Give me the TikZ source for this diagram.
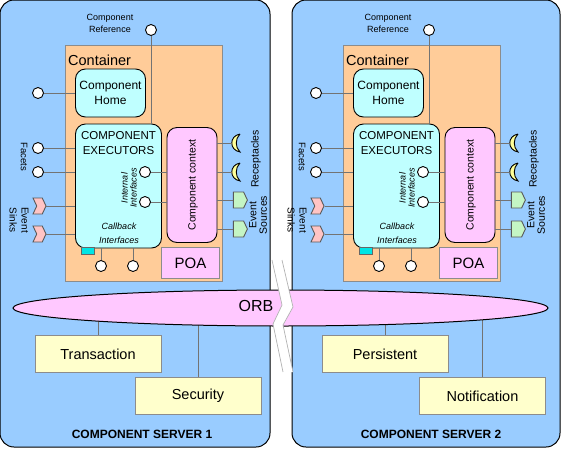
\documentclass[tikz,border=0pt]{standalone}
\usepackage{fontspec}
\setmainfont{Liberation Sans}
\usetikzlibrary{shapes.geometric,shapes.symbols}
\newcommand{\fsz}[1]{\fontsize{#1}{#1}\selectfont}

\begin{document}
\begin{tikzpicture}[
  x=1pt,y=-1pt,
  server/.style={draw,line width=1pt,rounded corners=14pt,fill=srvblue,minimum height=447pt,inner sep=0pt},
  container/.style={draw=black!45,line width=.8pt,fill=contorange,minimum width=157pt,minimum height=236pt,inner sep=0pt},
  compbox/.style={draw,line width=.9pt,rounded corners=10pt,fill=compcyan,align=center,inner sep=0pt,font=\fsz{12}},
  ctxbox/.style={draw,line width=.9pt,rounded corners=10pt,fill=ctxpink,inner sep=0pt},
  poabox/.style={draw=black!45,line width=.8pt,fill=ctxpink,minimum width=58pt,minimum height=31pt,inner sep=0pt,font=\fsz{15}},
  port/.style={draw,line width=.9pt,circle,fill=white,minimum width=11pt,inner sep=0pt},
  sinkport/.style={draw=black!65,line width=.9pt,signal,signal to=east,signal from=west,signal pointer angle=130,fill=sinkpink,minimum width=13pt,minimum height=16pt,inner sep=0pt},
  srcport/.style={draw=black!65,line width=.9pt,signal,signal to=east,signal pointer angle=130,fill=srcgreen,minimum width=14pt,minimum height=16pt,inner sep=0pt},
  service/.style={draw=black!45,line width=.7pt,fill=svcyellow,minimum width=126pt,minimum height=37pt,inner sep=0pt,font=\fsz{14.5}},
  wire/.style={draw=black!55,line width=.7pt},
  tiny/.style={inner sep=0pt,align=center,font=\fsz{9}},
  smalltext/.style={inner sep=0pt,align=center,font=\fsz{10.5}},
  title/.style={inner sep=0pt,font=\fsz{12}\bfseries},
  crescent/.pic={
    \draw[line width=.9pt,fill=recyellow] (4,-9) .. controls (-7,-7) and (-7,7) .. (4,9)
      .. controls (-1,4) and (-1,-4) .. (4,-9);
    \coordinate (-back) at (-4,0);
  }
]
  \definecolor{srvblue}{HTML}{99CCFF}
  \definecolor{contorange}{HTML}{FFCC99}
  \definecolor{compcyan}{HTML}{BFFFFF}
  \definecolor{ctxpink}{HTML}{FFC8FF}
  \definecolor{sinkpink}{HTML}{FFC4C4}
  \definecolor{srcgreen}{HTML}{C4F5C4}
  \definecolor{recyellow}{HTML}{FFFF99}
  \definecolor{svcyellow}{HTML}{FFFFCC}
  \definecolor{tabcyan}{HTML}{00E5E5}
  \useasboundingbox (0,0) rectangle (562,448);

  \node[server,minimum width=270pt] (srv1) at (135,223.5) {};
  \node[server,minimum width=268pt] (srv2) at (426,223.5) {};

  \foreach \s/\dx in {a/0,b/278} {
    \begin{scope}[xshift=\dx pt,name prefix=\s-]
      \node[container] (cont) at (143.5,163) {};
      \node[inner sep=0pt,anchor=west,font=\fsz{14.5}] (contlabel) at (68,60) {Container};
      \node[compbox,minimum width=70pt,minimum height=48pt] (home) at (110.5,93) {Component\\[3pt]Home};
      \node[compbox,minimum width=86pt,minimum height=124pt] (exec) at (118.5,186) {};
      \node[inner sep=0pt,align=center,font=\fsz{11.5}] (execlabel) at (118.5,143.5) {COMPONENT\\[3.5pt]EXECUTORS};
      \node[ctxbox,minimum width=50pt,minimum height=115pt] (ctx) at (192,185) {};
      \node[rotate=90,inner sep=0pt,font=\fsz{10.5}] (ctxlabel) at (193,185) {Component context};
      \node[poabox] (poa) at (190.5,263) {POA};
      \node[draw=black!60,line width=.6pt,fill=tabcyan,minimum width=13pt,minimum height=7pt,inner sep=0pt] (tab) at (87.5,250.5) {};

      \node[tiny,rotate=90,font=\fsz{9}\itshape] (intlabel) at (129,188) {Internal\\Interfaces};
      \node[tiny,font=\fsz{9}\itshape] (cblabel) at (119,233) {Callback\\[5pt]Interfaces};
      \node[tiny] (reflabel) at (110,23) {Component\\[3pt]Reference};
      \node[tiny,rotate=-90,font=\fsz{9.5}] (facelabel) at (24,157) {Facets};
      \node[tiny,rotate=-90,font=\fsz{10}] (sinklabel) at (19,220) {Event\\[2pt]Sinks};
      \node[smalltext,rotate=90] (reclabel) at (256,159) {Receptacles};
      \node[smalltext,rotate=90] (srclabel) at (258,215) {Event\\Sources};

      \node[port] (ref) at (151,30) {};
      \node[port] (hp) at (38,93) {};
      \node[port] (face1) at (38,148) {};
      \node[port] (face2) at (38,172) {};
      \node[port] (int1) at (145,172) {};
      \node[port] (int2) at (145,202) {};
      \node[port] (bot1) at (101,266) {};
      \node[port] (bot2) at (133,266) {};
      \node[sinkport] (sink1) at (39.5,206) {};
      \node[sinkport] (sink2) at (39.5,234) {};
      \node[srcport] (src1) at (238.5,200) {};
      \node[srcport] (src2) at (238.5,229) {};
      \pic (rec1) at (236,143) {crescent};
      \pic (rec2) at (236,172) {crescent};

      \path[wire] (ref) -- (ref |- exec.north)
        (hp) -- (hp -| home.west)
        (face1) -- (face1 -| exec.west)
        (face2) -- (face2 -| exec.west)
        (sink1) -- (sink1 -| exec.west)
        (sink2) -- (sink2 -| exec.west)
        (int1) -- (int1 -| ctx.west)
        (int2) -- (int2 -| ctx.west)
        (bot1) -- (bot1 |- exec.south)
        (bot2) -- (bot2 |- exec.south)
        (rec1-back) -- (rec1-back -| ctx.east)
        (rec2-back) -- (rec2-back -| ctx.east)
        (src1) -- (src1 -| ctx.east)
        (src2) -- (src2 -| ctx.east);
    \end{scope}
  }

  % services hang under the bus
  \coordinate (bus) at (280.5,308);
  \node[service] (tran) at (98,354) {Transaction};
  \node[service] (secu) at (198,396) {Security};
  \node[service] (pers) at (385,354) {Persistent};
  \node[service] (noti) at (482.5,396) {Notification};
  \path[wire] (tran) -- (tran |- bus) (secu) -- (secu |- bus)
    (pers) -- (pers |- bus) (noti) -- (noti |- bus);

  \node[draw,ellipse,line width=1pt,fill=ctxpink,minimum width=535pt,minimum height=36pt,inner sep=0pt] (orb) at (bus) {};
  \node[inner sep=0pt,font=\fsz{16}] (orblabel) at (256,306) {ORB};

  % the break between both servers
  \fill[white] (272,260) -- (282,305) -- (273,324) -- (283,372) -- (293,372)
    -- (283,325) -- (293,307) -- (282,260) -- cycle;
  \draw[black!30,line width=.7pt] (272,260) -- (282,305) -- (273,324) -- (283,372);
  \draw[black!30,line width=.7pt] (282,260) -- (293,307) -- (283,325) -- (293,372);

  \node[title] (name1) at (142,434) {COMPONENT SERVER 1};
  \node[title] (name2) at (431,434) {COMPONENT SERVER 2};
\end{tikzpicture}
\end{document}
